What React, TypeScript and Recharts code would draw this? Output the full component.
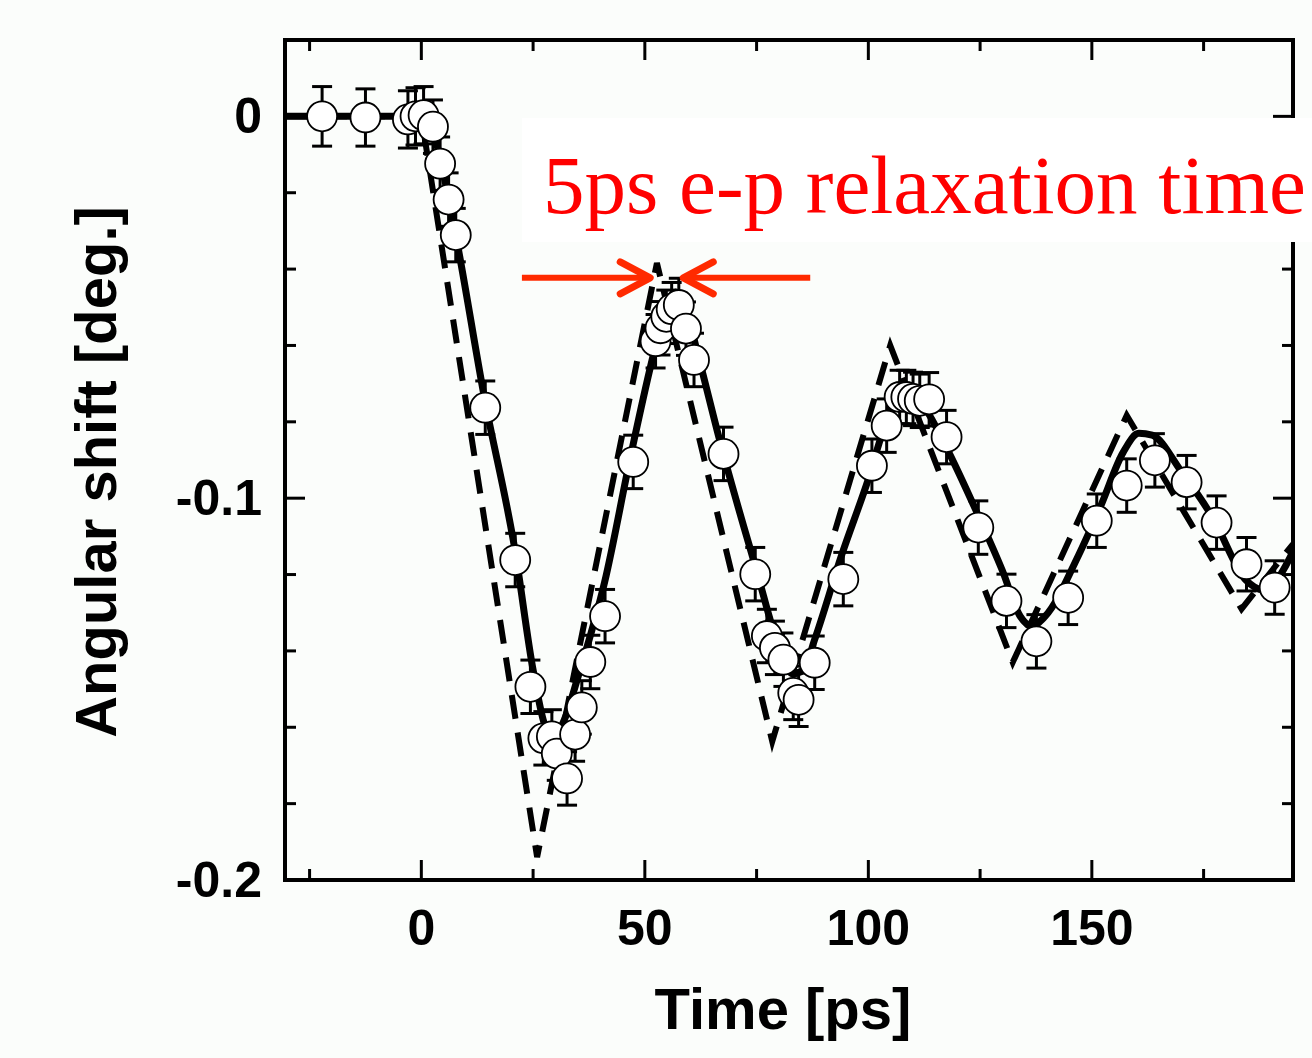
import {
  ComposedChart,
  Line,
  Scatter,
  ErrorBar,
  XAxis,
  YAxis,
  ReferenceLine,
} from 'recharts';

// measured angular shift (open circles with error bars)
const measuredTimePs = [
  -22.2, -12.5, -3.0, -1.3, 0.5, 2.6, 4.2, 6.1, 7.7, 14.3, 21.0, 24.4, 27.3, 29.2, 30.3, 32.6,
  34.4, 35.9, 37.8, 41.1, 47.4, 52.4, 53.5, 54.8, 56.0, 57.6, 59.2, 61.0, 67.6, 74.7, 77.3, 79.1,
  81.0, 83.2, 84.4, 88.0, 94.4, 100.8, 104.1, 107.0, 108.5, 110.0, 111.5, 113.6, 117.5, 124.6,
  130.9, 137.6, 144.7, 151.1, 157.8, 164.1, 171.2, 177.9, 184.6, 190.9,
];
const measuredShift = [
  0, -0.0003, -0.0008, 0, 0.0003, -0.0027, -0.0124, -0.0218, -0.0311, -0.0763, -0.1162, -0.1494,
  -0.1629, -0.1624, -0.1669, -0.1734, -0.1619, -0.1548, -0.1429, -0.1309, -0.0905, -0.0589,
  -0.0555, -0.0525, -0.0505, -0.0494, -0.0556, -0.0638, -0.0884, -0.1199, -0.1361, -0.1392,
  -0.1423, -0.151, -0.1528, -0.1431, -0.1212, -0.0915, -0.081, -0.0735, -0.0735, -0.074, -0.0745,
  -0.0741, -0.084, -0.1077, -0.1269, -0.1375, -0.1261, -0.1059, -0.0967, -0.0901, -0.0958,
  -0.1064, -0.1173, -0.1234,
];
const measuredErr = [
  0.0078, 0.0075, 0.0075, 0.0075, 0.0075, 0.007, 0.007, 0.007, 0.007, 0.007, 0.007, 0.007,
  0.007, 0.007, 0.007, 0.007, 0.007, 0.007, 0.007, 0.007, 0.007, 0.007, 0.007, 0.007, 0.007,
  0.007, 0.007, 0.007, 0.007, 0.007, 0.007, 0.007, 0.007, 0.007, 0.007, 0.007, 0.007, 0.007,
  0.007, 0.007, 0.007, 0.007, 0.007, 0.007, 0.007, 0.007, 0.007, 0.007, 0.007, 0.007, 0.007,
  0.007, 0.007, 0.007, 0.007, 0.007,
];

// fit with 5 ps e-p relaxation (thick solid line)
const fitTimePs = [
  -30.5, 1, 2.5, 4, 6, 8, 14, 21, 25, 27.5, 29.5, 32, 35, 41, 47, 52, 55, 57, 59, 62, 67, 75, 80,
  83, 85.5, 88, 94, 100, 104, 107, 109.5, 113, 118, 124, 130, 134, 136.5, 139.5, 147, 152, 157,
  160.5, 163.5, 170, 177, 184.5, 188.3, 191, 195,
];
const fitShift = [
  0, 0, -0.003, -0.01, -0.021, -0.033, -0.073, -0.114, -0.145, -0.159, -0.163, -0.158, -0.147,
  -0.122, -0.088, -0.062, -0.049, -0.046, -0.05, -0.063, -0.086, -0.119, -0.139, -0.146, -0.145,
  -0.137, -0.115, -0.095, -0.08, -0.073, -0.072, -0.077, -0.088, -0.103, -0.119, -0.131, -0.1335,
  -0.131, -0.115, -0.102, -0.088, -0.083, -0.0835, -0.093, -0.105, -0.1215, -0.124, -0.122,
  -0.114,
];

// model without relaxation (dashed line)
const instantTimePs = [-30.5, 0, 25.9, 52.7, 78.5, 104.9, 132.3, 157.8, 183.5, 195];
const instantShift = [0, 0, -0.194, -0.0384, -0.1637, -0.06, -0.143, -0.0783, -0.129, -0.112];

const xTicks = [-25, 0, 25, 50, 75, 100, 125, 150, 175];
const xLabelled = [0, 50, 100, 150];
const yTicks = [0, -0.02, -0.04, -0.06, -0.08, -0.1, -0.12, -0.14, -0.16, -0.18, -0.2];
const yLabelled = [0, -0.1, -0.2];

// red arrows marking the 5 ps offset: [tail, tip] in (ps, deg)
const arrowY = -0.0423;
const leftArrow = [22.5, 51.2];
const rightArrow = [87.0, 58.6];

const measured = measuredTimePs.map((t, i) => ({ t, v: measuredShift[i], e: measuredErr[i] }));
const fit = fitTimePs.map((t, i) => ({ t, v: fitShift[i] }));
const instant = instantTimePs.map((t, i) => ({ t, v: instantShift[i] }));

const FONT = '"Liberation Sans", Arial, sans-serif';
const RED = '#ff2a00';
const MAJOR = 20;
const MINOR = 11;

function BottomTick({ x, y, payload }: any) {
  const major = xLabelled.includes(payload.value);
  return (
    <g>
      <line x1={x} x2={x} y1={y} y2={y - (major ? MAJOR : MINOR)} stroke="#000" strokeWidth={3} />
      {major && (
        <text x={x} y={y + 65} textAnchor="middle" fontFamily={FONT} fontWeight="bold" fontSize={50} fill="#000">
          {payload.value}
        </text>
      )}
    </g>
  );
}

function TopTick({ x, y, payload }: any) {
  const major = xLabelled.includes(payload.value);
  return <line x1={x} x2={x} y1={y} y2={y + (major ? MAJOR : MINOR)} stroke="#000" strokeWidth={3} />;
}

function LeftTick({ x, y, payload }: any) {
  const major = yLabelled.includes(payload.value);
  return (
    <g>
      <line x1={x} x2={x + (major ? MAJOR : MINOR)} y1={y} y2={y} stroke="#000" strokeWidth={3} />
      {major && (
        <text x={x - 23} y={y + 17} textAnchor="end" fontFamily={FONT} fontWeight="bold" fontSize={50} fill="#000">
          {String(payload.value)}
        </text>
      )}
    </g>
  );
}

function RightTick({ x, y, payload }: any) {
  const major = yLabelled.includes(payload.value);
  return <line x1={x} x2={x - (major ? MAJOR : MINOR)} y1={y} y2={y} stroke="#000" strokeWidth={3} />;
}

function Arrow(props: any) {
  const { x1, y1, x2, y2 } = props;
  const dir = Math.sign(x2 - x1);
  return (
    <g>
      <line x1={x1} y1={y1} x2={x2 - dir * 4} y2={y2} stroke={RED} strokeWidth={6} />
      <polyline
        points={`${x2 - dir * 30},${y2 - 16} ${x2},${y2} ${x2 - dir * 30},${y2 + 16}`}
        fill="none"
        stroke={RED}
        strokeWidth={7}
        strokeLinecap="round"
        strokeLinejoin="round"
      />
    </g>
  );
}

function Circle({ cx, cy }: any) {
  return <circle cx={cx} cy={cy} r={15} fill="#fff" stroke="#000" strokeWidth={1.8} />;
}

const axisLine = { stroke: '#000', strokeWidth: 4, strokeLinecap: 'square' as const };

export default function App() {
  return (
    <div style={{ position: 'absolute', left: 0, top: 0, width: 1312, height: 1058, background: '#fbfdfb', overflow: 'hidden' }}>
      <ComposedChart width={1312} height={1058} margin={{ top: 39, right: 18, bottom: 177, left: 284 }}>
        <XAxis
          type="number"
          dataKey="t"
          domain={[-30.5, 195]}
          allowDataOverflow
          ticks={xTicks}
          interval={0}
          height={1}
          tickSize={0}
          tickMargin={0}
          tick={<BottomTick />}
          axisLine={axisLine}
        />
        <XAxis
          xAxisId="top"
          orientation="top"
          type="number"
          dataKey="t"
          domain={[-30.5, 195]}
          allowDataOverflow
          ticks={xTicks}
          interval={0}
          height={1}
          tickSize={0}
          tickMargin={0}
          tick={<TopTick />}
          axisLine={axisLine}
        />
        <YAxis
          type="number"
          domain={[-0.2, 0.02]}
          allowDataOverflow
          ticks={yTicks}
          interval={0}
          width={1}
          tickSize={0}
          tickMargin={0}
          tick={<LeftTick />}
          axisLine={axisLine}
        />
        <YAxis
          yAxisId="right"
          orientation="right"
          type="number"
          domain={[-0.2, 0.02]}
          allowDataOverflow
          ticks={yTicks}
          interval={0}
          width={1}
          tickSize={0}
          tickMargin={0}
          tick={<RightTick />}
          axisLine={axisLine}
        />
        <Line
          data={instant}
          dataKey="v"
          type="linear"
          stroke="#000"
          strokeWidth={6}
          strokeDasharray="24 14"
          dot={false}
          isAnimationActive={false}
        />
        <Line
          data={fit}
          dataKey="v"
          type="monotone"
          stroke="#000"
          strokeWidth={7}
          dot={false}
          isAnimationActive={false}
        />
        <Scatter data={measured} dataKey="v" shape={<Circle />} isAnimationActive={false}>
          <ErrorBar dataKey="e" direction="y" width={10} strokeWidth={3} stroke="#000" isAnimationActive={false} />
        </Scatter>
        <ReferenceLine
          segment={[{ x: leftArrow[0], y: arrowY }, { x: leftArrow[1], y: arrowY }]}
          shape={<Arrow />}
        />
        <ReferenceLine
          segment={[{ x: rightArrow[0], y: arrowY }, { x: rightArrow[1], y: arrowY }]}
          shape={<Arrow />}
        />
      </ComposedChart>
      <svg width={1312} height={1058} style={{ position: 'absolute', left: 0, top: 0, pointerEvents: 'none' }}>
        <rect x={522} y={118} width={800} height={124} fill="#fff" />
        <text x={543} y={213} fontFamily='"Liberation Serif", "Times New Roman", serif' fontSize={83} fill="#ff0000">
          5ps e-p relaxation time
        </text>
        <text x={783} y={1029} textAnchor="middle" fontFamily={FONT} fontWeight="bold" fontSize={58} fill="#000">
          Time [ps]
        </text>
        <text
          transform="translate(116, 472) rotate(-90)"
          textAnchor="middle"
          fontFamily={FONT}
          fontWeight="bold"
          fontSize={58}
          fill="#000"
        >
          Angular shift [deg.]
        </text>
      </svg>
    </div>
  );
}
